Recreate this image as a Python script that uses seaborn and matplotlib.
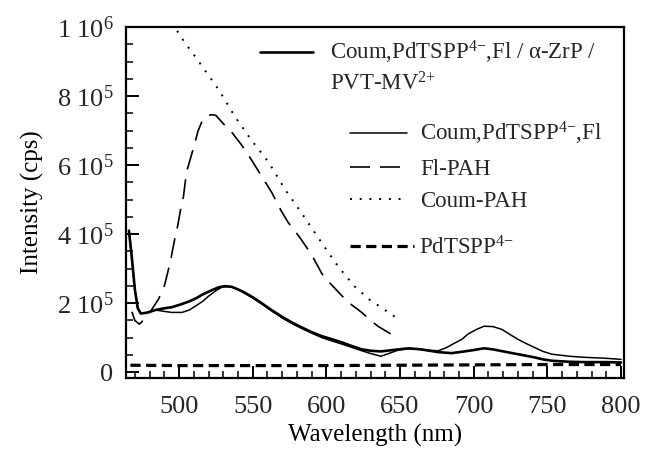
import numpy as np
import pandas as pd
import matplotlib
matplotlib.use("Agg")
import matplotlib.pyplot as plt
from matplotlib.lines import Line2D
from matplotlib.ticker import MultipleLocator, FixedLocator, FixedFormatter
import seaborn as sns

# ---------------- data ----------------
wl_zrp = [466, 468, 470, 472, 474, 478, 484, 490, 495, 501, 507, 512, 516, 522, 527, 531,
          536, 543, 550, 556, 562, 570, 577, 583, 590, 597, 604, 610, 617, 624, 630, 637,
          643, 649, 656, 664, 670, 676, 685, 692, 700, 707, 713, 719, 725, 730, 736, 741,
          747, 753, 765, 775, 790, 800]
int_zrp = [410e3, 330e3, 240e3, 185e3, 170e3, 172e3, 180e3, 185e3, 188e3, 196e3, 205e3,
           215e3, 225e3, 237e3, 246e3, 249e3, 247e3, 234e3, 217e3, 200e3, 182e3, 160e3,
           143e3, 130e3, 116e3, 104e3, 95e3, 87e3, 76e3, 66e3, 62e3, 60e3, 63e3, 66e3,
           69e3, 66e3, 62e3, 58e3, 55e3, 59e3, 64e3, 69e3, 66e3, 61e3, 56e3, 52e3, 47e3,
           43e3, 37e3, 33e3, 30e3, 29e3, 29e3, 28e3]

wl_mix = [466, 468, 470, 472, 474, 478, 484, 490, 495, 502, 507, 511, 516, 520, 525, 529,
          534, 540, 550, 556, 562, 570, 577, 583, 590, 597, 604, 610, 617, 624, 630, 637,
          643, 649, 656, 664, 670, 676, 681, 687, 692, 696, 702, 707, 713, 719, 725, 730,
          736, 741, 747, 753, 765, 775, 790, 800]
int_mix = [410e3, 330e3, 240e3, 185e3, 170e3, 172e3, 180e3, 176e3, 173e3, 173e3, 180e3,
           191e3, 205e3, 220e3, 236e3, 246e3, 249e3, 240e3, 215e3, 198e3, 180e3, 157e3,
           140e3, 127e3, 113e3, 100e3, 90e3, 82e3, 72e3, 62e3, 54e3, 46e3, 55e3, 64e3,
           68e3, 66e3, 63e3, 62e3, 70e3, 84e3, 95e3, 110e3, 124e3, 133e3, 132e3, 124e3,
           108e3, 95e3, 82e3, 72e3, 60e3, 52e3, 46e3, 43e3, 40e3, 37e3]

wl_fl = [468, 470, 473, 478, 482, 486, 490, 494, 497, 499, 501, 503, 505, 510, 513, 516,
         519, 522, 525, 530, 536, 543, 549, 556, 563, 569, 574, 582, 590, 597, 602, 609,
         615, 624, 630, 635, 640, 644]
int_fl = [175e3, 150e3, 139e3, 159e3, 185e3, 211e3, 249e3, 318e3, 384e3, 422e3, 470e3,
          509e3, 578e3, 653e3, 700e3, 731e3, 742e3, 746e3, 744e3, 720e3, 694e3, 655e3,
          616e3, 568e3, 520e3, 470e3, 434e3, 390e3, 340e3, 285e3, 260e3, 228e3, 202e3,
          173e3, 150e3, 133e3, 120e3, 110e3]

wl_coum = [488, 497, 504, 510, 516, 527, 538, 549, 561, 572, 583, 592, 600, 608, 619, 629,
           639, 649]
int_coum = [1.06e6, 1.0e6, 954e3, 920e3, 884e3, 818e3, 740e3, 673e3, 607e3, 529e3, 462e3,
            405e3, 355e3, 306e3, 249e3, 211e3, 182e3, 153e3]

wl_pd = [467, 500, 550, 600, 650, 700, 750, 800]
int_pd = [20e3, 19e3, 19e3, 19e3, 20e3, 21e3, 22e3, 22e3]

labels = ["Coum,PdTSPP$^{4{-}}$,Fl / \u03b1-ZrP /", "PVT-MV$^{2{+}}$",
          "Coum,PdTSPP$^{4{-}}$,Fl", "Fl-PAH", "Coum-PAH", "PdTSPP$^{4{-}}$"]
xticks = [500, 550, 600, 650, 700, 750, 800]
yticks = [0, 2e5, 4e5, 6e5, 8e5, 1e6]
ytick_labels = ["0", "2 10$^{5}$", "4 10$^{5}$", "6 10$^{5}$", "8 10$^{5}$", "1 10$^{6}$"]

# ---------------- style ----------------
sns.set_theme(style="white")
plt.rcParams["font.family"] = ["Liberation Serif", "DejaVu Serif"]
plt.rcParams["mathtext.default"] = "regular"

fig = plt.figure(figsize=(6.45, 4.54), dpi=100)
ax = fig.add_axes([126 / 645, 1 - 378 / 454, 498 / 645, 351 / 454])

styles = {
    "zrp": dict(lw=1.9, linestyle="-"),
    "mix": dict(lw=1.1, linestyle="-"),
    "fl": dict(lw=1.2, linestyle=(0, (12, 6))),
    "coum": dict(lw=1.4, linestyle=(0, (1, 4))),
    "pd": dict(lw=2.3, linestyle=(0, (3.2, 1.7))),
}
series = {
    "zrp": (wl_zrp, int_zrp),
    "mix": (wl_mix, int_mix),
    "fl": (wl_fl, int_fl),
    "coum": (wl_coum, int_coum),
    "pd": (wl_pd, int_pd),
}
for key, (xs, ys) in series.items():
    df = pd.DataFrame({"wl": xs, "I": ys})
    sns.lineplot(data=df, x="wl", y="I", ax=ax, color="black", sort=True,
                 estimator=None, **styles[key])

ax.set_xlim(464, 802)
ax.set_ylim(-1.7e4, 1e6)
ax.xaxis.set_major_locator(FixedLocator(xticks))
ax.xaxis.set_minor_locator(MultipleLocator(10))
ax.yaxis.set_major_locator(FixedLocator(yticks))
ax.yaxis.set_major_formatter(FixedFormatter(ytick_labels))
ax.yaxis.set_minor_locator(MultipleLocator(5e4))
ax.tick_params(which="both", direction="in", color="black", labelsize=19,
               bottom=True, left=True, top=False, right=False)
ax.tick_params(which="major", length=9, width=1.4)
ax.tick_params(which="minor", length=5, width=1.1)
ax.tick_params(axis="x", which="major", pad=13)
ax.tick_params(axis="y", which="major", pad=9)
for s in ax.spines.values():
    s.set_color("black")
    s.set_linewidth(1.6)

ax.set_xlabel("Wavelength (nm)", fontsize=18, labelpad=4, color="black")
ax.set_ylabel("Intensity (cps)", fontsize=18, labelpad=9, color="black")

# ---------------- legends ----------------
def handle(key):
    return Line2D([], [], color="black", **styles[key])

leg1 = ax.legend([handle("zrp"), Line2D([], [], color="none")], labels[0:2],
                 loc="upper left", bbox_to_anchor=(0.269, 0.965), frameon=False,
                 fontsize=16.5, handlelength=2.3, handletextpad=0.75, borderpad=0,
                 borderaxespad=0, labelspacing=0.25)
ax.add_artist(leg1)
leg2 = ax.legend([handle("mix"), handle("fl"), handle("coum")], labels[2:5],
                 loc="upper left", bbox_to_anchor=(0.450, 0.735), frameon=False,
                 fontsize=16.5, handlelength=2.5, handletextpad=0.55, borderpad=0,
                 borderaxespad=0, labelspacing=0.5)
ax.add_artist(leg2)
leg3 = ax.legend([handle("pd")], labels[5:6],
                 loc="upper left", bbox_to_anchor=(0.450, 0.405), frameon=False,
                 fontsize=16.5, handlelength=2.8, handletextpad=0.2, borderpad=0,
                 borderaxespad=0)

fig.savefig("out.png", dpi=100)
